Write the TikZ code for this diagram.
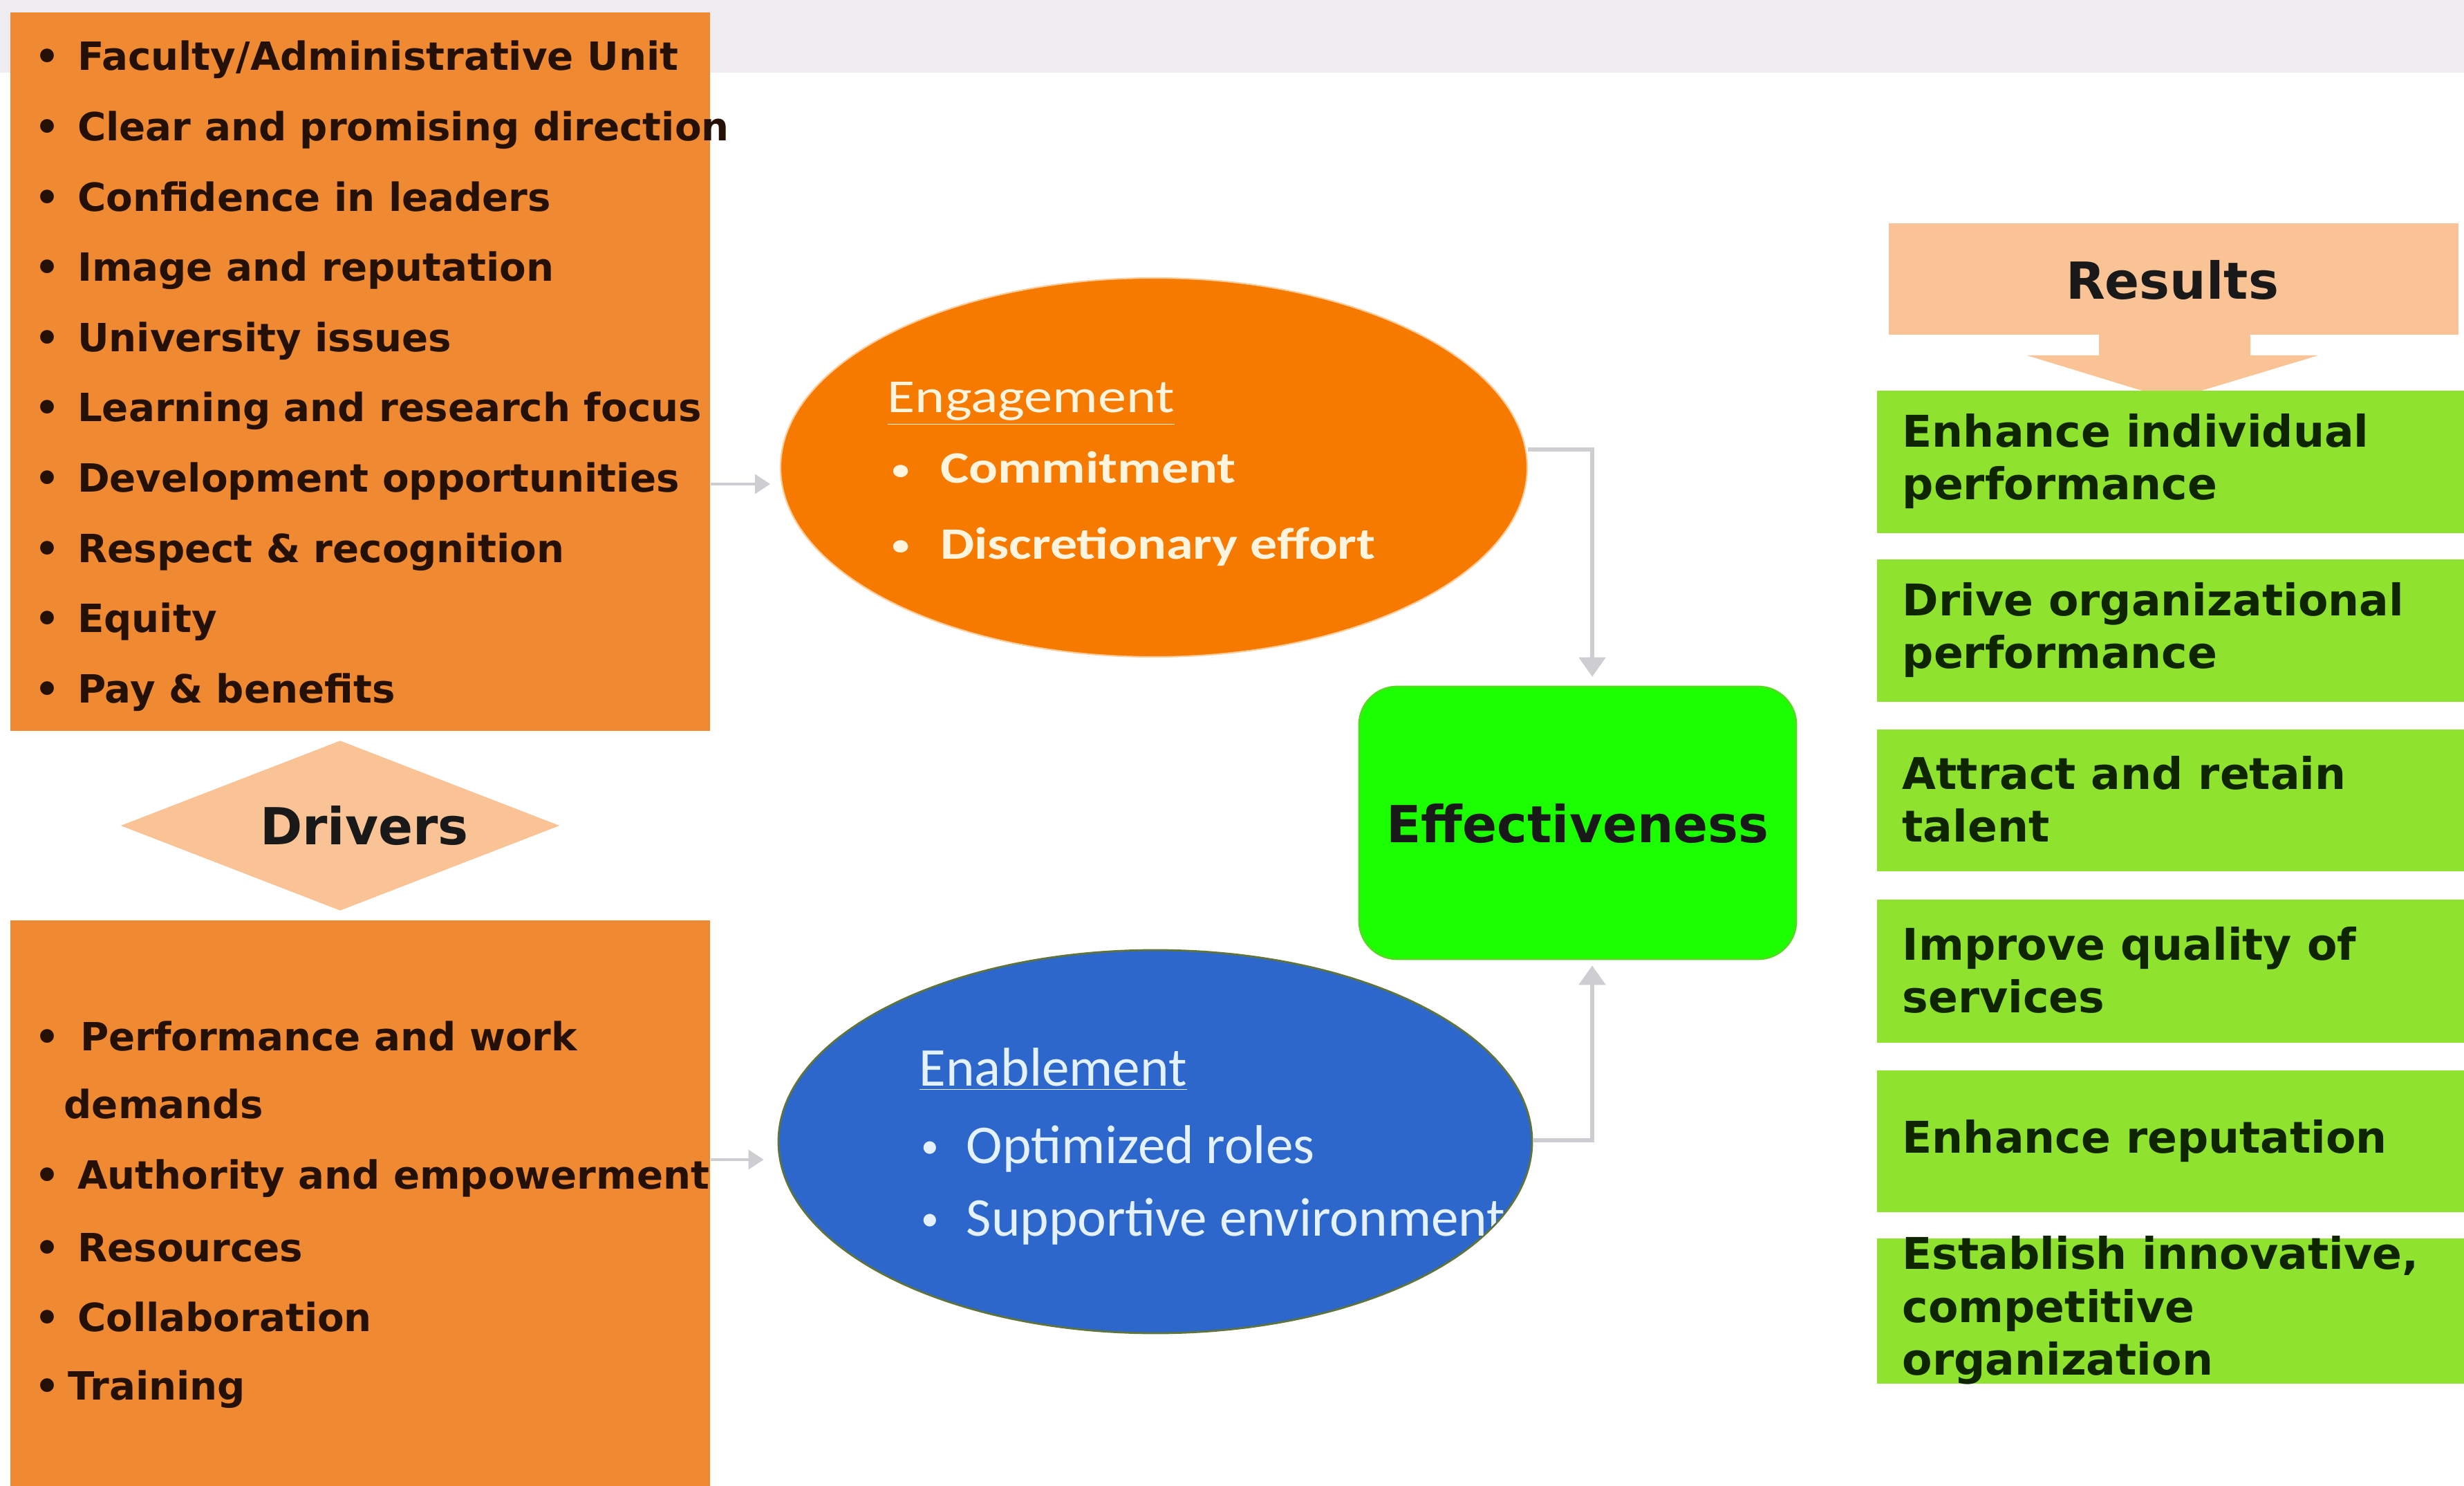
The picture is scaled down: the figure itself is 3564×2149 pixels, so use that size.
\documentclass[tikz,border=0pt]{standalone}
\usepackage{fontspec}
\usepackage{graphicx}
\setmainfont{DejaVu Sans}
\newfontfamily\carlito{Carlito}
\newfontfamily\carlitow[FakeStretch=1.2]{Carlito}
\usetikzlibrary{shapes.geometric,arrows.meta,fit}
\definecolor{band}{HTML}{EEECF1}
\definecolor{obox}{HTML}{EF8A33}
\definecolor{peach}{HTML}{F9C396}
\definecolor{engc}{HTML}{F77A00}
\definecolor{enac}{HTML}{2E67CC}
\definecolor{effc}{HTML}{1CFF00}
\definecolor{resc}{HTML}{8FE22E}
\definecolor{ltxt}{HTML}{251005}
\definecolor{rtxt}{HTML}{0E2500}
\definecolor{cream}{HTML}{FFF4DE}
\definecolor{pale}{HTML}{E4F2FF}
\definecolor{conng}{HTML}{CDCDD2}
\newcommand\bl[2][17.5pt]{\makebox[#1][l]{\textbullet}#2}
\newcommand\sbl[2][20pt]{\makebox[#1][l]{\hspace{0.09em}\raisebox{0.09em}{\scalebox{0.65}{\textbullet}}}#2}
\begin{document}
\begin{tikzpicture}[x=0.1mm,y=-0.1mm,
  obx/.style={fill=obox,inner sep=0pt},
  ltext/.style={anchor=base west,inner sep=0pt,text=ltxt,font=\bfseries\fontsize{16}{19}\selectfont},
  etext/.style={anchor=base west,inner sep=0pt,text=cream,font=\carlitow\fontsize{18.5}{22}\selectfont},
  ntext/.style={anchor=base west,inner sep=0pt,text=pale,font=\carlito\fontsize{22.5}{26}\selectfont},
  rbox/.style={fill=resc,inner sep=0pt,anchor=north west,minimum width=87mm,minimum height=20.6mm},
  rtext/.style={anchor=west,inner sep=0pt,align=left,text=rtxt,font=\bfseries\fontsize{18}{21.8}\selectfont},
  bigt/.style={inner sep=0pt,font=\bfseries\fontsize{21}{25}\selectfont,text=black!90},
  conn/.style={draw=conng,line width=1.7pt,-{Triangle[length=2.8mm,width=3.8mm]}},
  sconn/.style={draw=conng,line width=1.1pt,-{Triangle[length=2.2mm,width=2.8mm]}}]
\useasboundingbox (0,0) rectangle (3564,2149);
\clip (0,0) rectangle (3564,2149);
\fill[white] (0,0) rectangle (3564,2149);
\fill[band] (0,0) rectangle (3564,105);

% left boxes
\node[obx,fit={(15,18)(1027,1057)}] (topbox) {};
\node[obx,fit={(15,1331)(1027,2170)}] (botbox) {};
\foreach \t [count=\i from 0] in {{Faculty/Administrative Unit},{Clear and promising direction},{Confidence in leaders},{Image and reputation},{University issues},{Learning and research focus},{Development opportunities},{Respect \& recognition},{Equity},{Pay \& benefits}}
  \node[ltext] (ta\i) at (50,{102+\i*101.6}) {\bl{\t}};
\node[ltext] (tb1) at (50,1519) {\bl[18.6pt]{Performance and work}};
\node[ltext] (tb2) at (92,1617) {demands};
\node[ltext] (tb3) at (50,1719) {\bl{Authority and empowerment}};
\node[ltext] (tb4) at (50,1824) {\bl{Resources}};
\node[ltext] (tb5) at (50,1925) {\bl{Collaboration}};
\node[ltext] (tb6) at (50,2024) {\bl[13.6pt]{Training}};

% drivers
\node[diamond,aspect=2.6,fill=peach,inner sep=0pt,minimum width=63.5mm,minimum height=24.6mm] (drivers) at (492,1194) {};
\node[bigt] (drivt) at (527,1194) {Drivers};

% ellipses
\node[ellipse,fill=engc,draw=orange!40,line width=0.6pt,inner sep=0pt,minimum width=108mm,minimum height=54.8mm] (eng) at (1669,676) {};
\node[ellipse,fill=enac,draw={rgb,255:red,95;green,115;blue,60},line width=0.8pt,inner sep=0pt,minimum width=109mm,minimum height=55.4mm] (enab) at (1671,1651) {};
\node[etext,font=\carlitow\fontsize{19.5}{23}\selectfont] (eng0) at (1283,597) {\underline{Engagement}};
\node[etext,font=\carlitow\bfseries\fontsize{18.5}{22}\selectfont] (eng1) at (1284,699) {\sbl[21.5pt]{Commitment}};
\node[etext,font=\carlitow\bfseries\fontsize{18.5}{22}\selectfont] (eng2) at (1284,808) {\sbl[21.5pt]{Discretionary effort}};
\begin{scope}
\clip (1671,1651) ellipse [x radius=54.3mm,y radius=27.5mm];
\node[ntext] (en0) at (1329,1570) {\underline{Enablement}};
\node[ntext] (en1) at (1325,1682) {\sbl[20.5pt]{Optimized roles}};
\node[ntext] (en2) at (1325,1787) {\sbl[20.5pt]{Supportive environment}};
\end{scope}

% effectiveness
\node[fit={(1966,993)(2598,1387)},inner sep=0pt,fill=effc,draw={rgb,255:red,80;green,220;blue,30},line width=0.8pt,rounded corners=5.5mm] (eff) {};
\node[bigt] (efft) at (2282,1191) {Effectiveness};

% results
\fill[peach] (3036,480) -- (3036,514) -- (2932,514) -- (3141,578) -- (3353,514) -- (3255,514) -- (3255,480) -- cycle;
\node[fit={(2732,323)(3556,484)},inner sep=0pt,fill=peach] (res) {};
\node[bigt] (rest) at (3142,405) {Results};
\node[rbox,minimum height=20.6mm] (r1) at (2714,564) {};
\node[rbox,minimum height=20.6mm] (r2) at (2714,808) {};
\node[rbox,minimum height=20.5mm] (r3) at (2714,1054) {};
\node[rbox,minimum height=20.7mm] (r4) at (2714,1300) {};
\node[rbox,minimum height=20.5mm] (r5) at (2714,1547) {};
\node[rbox,minimum height=21.0mm] (r6) at (2714,1790) {};
\node[rtext] (r1t) at (2751,667) {Enhance individual\\performance};
\node[rtext] (r2t) at (2751,911) {Drive organizational\\performance};
\node[rtext] (r3t) at (2751,1156) {Attract and retain\\talent};
\node[rtext] (r4t) at (2751,1403) {Improve quality of\\services};
\node[rtext] (r5t) at (2751,1650) {Enhance reputation};
\node[rtext] (r6t) at (2751,1895) {Establish innovative,\\competitive\\organization};

% connectors
\draw[sconn,shorten >=1.4mm] (topbox.east |- 0,700) -- (eng.west |- 0,700);
\draw[sconn,shorten >=2mm] (botbox.east |- 0,1677) -- (enab.west |- 0,1677);
\coordinate (ej) at (2303,650);
\coordinate (nj) at (2303,1649);
\draw[conn,shorten >=1.3mm] (eng.east |- ej) -- (ej) -- (ej |- eff.north);
\draw[conn,shorten >=0.8mm] (enab.east |- nj) -- (nj) -- (nj |- eff.south);
\end{tikzpicture}
\end{document}
